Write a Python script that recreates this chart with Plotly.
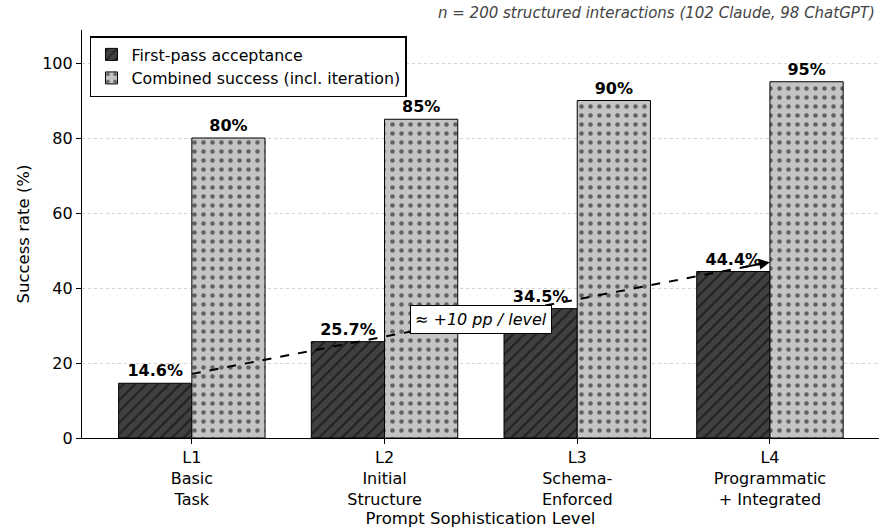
import plotly.graph_objects as go

levels = ["L1<br>Basic<br>Task", "L2<br>Initial<br>Structure", "L3<br>Schema-<br>Enforced", "L4<br>Programmatic<br>+ Integrated"]
x_pos = [0, 1, 2, 3]
first_pass = [14.6, 25.7, 34.5, 44.4]
combined = [80, 85, 90, 95]
trend_offset = 2.5

FONT = "DejaVu Sans"

fig = go.Figure()
fig.add_trace(go.Bar(
    x=x_pos, y=first_pass, name="First-pass acceptance",
    marker=dict(color="#404040", line=dict(color="black", width=1),
                pattern=dict(shape="/", fgcolor="black", bgcolor="#404040", size=8, solidity=0.25)),
    text=[f"<b>{v:.1f}%</b>" for v in first_pass], textposition="outside",
    textfont=dict(family=FONT, size=16, color="black"), cliponaxis=False,
))
fig.add_trace(go.Bar(
    x=x_pos, y=combined, name="Combined success (incl. iteration)",
    marker=dict(color="#c4c4c4", line=dict(color="black", width=1),
                pattern=dict(shape=".", fgcolor="black", bgcolor="#c4c4c4", size=9, solidity=0.2)),
    text=[f"<b>{v:.0f}%</b>" for v in combined], textposition="outside",
    textfont=dict(family=FONT, size=16, color="black"), cliponaxis=False,
))

trend_y = [first_pass[0] + trend_offset, first_pass[-1] + trend_offset]
fig.add_trace(go.Scatter(
    x=[x_pos[0], x_pos[-1]], y=trend_y, mode="lines",
    line=dict(color="black", width=2, dash="dash"), showlegend=False, hoverinfo="skip",
))
fig.add_annotation(
    x=x_pos[-1], y=trend_y[1], ax=x_pos[-1] - 0.15, ay=trend_y[1] - 0.15 * (trend_y[1] - trend_y[0]) / 3,
    xref="x", yref="y", axref="x", ayref="y", showarrow=True, arrowhead=2, arrowsize=1.2,
    arrowwidth=1.8, arrowcolor="black", text="",
)
fig.add_annotation(
    x=1.5, y=31.5, xref="x", yref="y", text="<i>≈ +10 pp / level</i>", showarrow=False,
    font=dict(family=FONT, size=16, color="black"), bgcolor="white", bordercolor="black",
    borderwidth=1, borderpad=4,
)
fig.add_annotation(
    x=1, y=1.0, xref="paper", yref="paper", yanchor="middle", xanchor="right", yshift=17, xshift=-2,
    text="<i>n = 200 structured interactions (102 Claude, 98 ChatGPT)</i>", showarrow=False,
    font=dict(family=FONT, size=15, color="#444444"),
)

fig.update_layout(
    width=879, height=529, barmode="group", bargap=0.24, bargroupgap=0,
    margin=dict(l=82, r=0, t=30, b=91),
    plot_bgcolor="white", paper_bgcolor="white",
    font=dict(family=FONT, size=16, color="black"),
    legend=dict(x=0.01, y=0.985, xanchor="left", yanchor="top", bordercolor="black", borderwidth=1.5,
                bgcolor="white", font=dict(family=FONT, size=15.8), tracegroupgap=0),
    xaxis=dict(range=[-0.57, 3.566], tickvals=x_pos, ticktext=levels, showline=True, linecolor="black",
               linewidth=1.2, ticks="outside", ticklen=5, tickcolor="black", showgrid=False,
               title=dict(text="Prompt Sophistication Level", font=dict(family=FONT, size=16.5), standoff=4),
               tickfont=dict(family=FONT, size=16)),
    yaxis=dict(range=[0, 108.8], dtick=20, showline=True, linecolor="black", linewidth=1.2,
               ticks="outside", ticklen=5, tickcolor="black", showgrid=True, gridcolor="#d2d2d2",
               griddash="dot", gridwidth=1, zeroline=False,
               title=dict(text="Success rate (%)", font=dict(family=FONT, size=16.5), standoff=8),
               tickfont=dict(family=FONT, size=16)),
)

fig.write_html("out.html", config={"displayModeBar": False},
               post_script="document.body.style.margin='0';document.body.style.overflow='hidden';")
